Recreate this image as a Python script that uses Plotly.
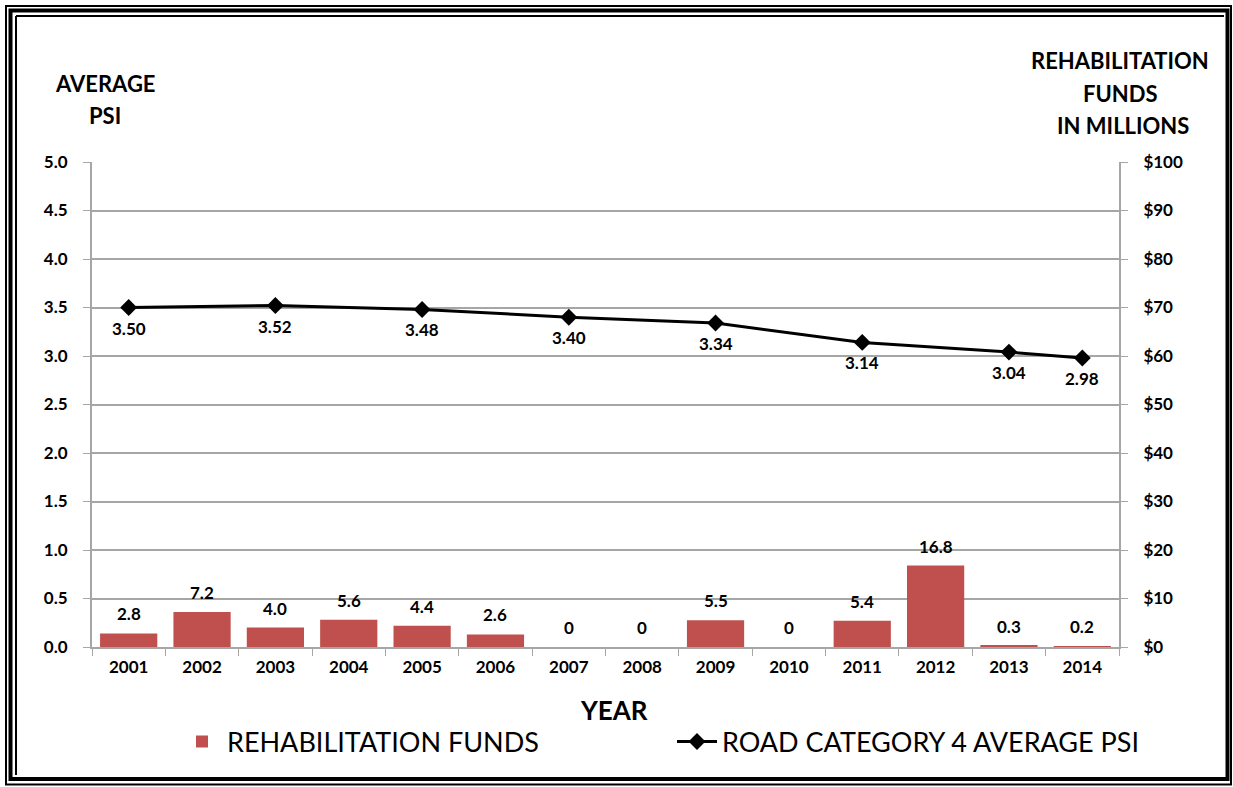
import plotly.graph_objects as go

years = ["2001", "2002", "2003", "2004", "2005", "2006", "2007",
         "2008", "2009", "2010", "2011", "2012", "2013", "2014"]
funds = [2.8, 7.2, 4.0, 5.6, 4.4, 2.6, 0, 0, 5.5, 0, 5.4, 16.8, 0.3, 0.2]

psi_years = ["2001", "2003", "2005", "2007", "2009", "2011", "2013", "2014"]
psi = [3.50, 3.52, 3.48, 3.40, 3.34, 3.14, 3.04, 2.98]

W, H = 1233, 787
ML, MR, MT, MB = 92, 114, 162, 140
PW, PH = W - ML - MR, H - MT - MB


def px(x):
    return (x - ML) / PW


def py(y):
    return (H - MB - y) / PH


FONT = "Lato"
GRAY = "#A6A6A6"
LABEL = dict(family=FONT, size=17, color="black", weight="bold")

fig = go.Figure()
fig.add_trace(go.Bar(
    x=years, y=funds, yaxis="y2", name="REHABILITATION FUNDS",
    marker=dict(color="#C0504D", line=dict(width=0)),
))
fig.add_trace(go.Scatter(
    x=psi_years, y=psi, name="ROAD CATEGORY 4 AVERAGE PSI",
    mode="lines+markers",
    line=dict(color="black", width=3),
    marker=dict(symbol="diamond", size=13, color="black"),
))

# value labels (x given as category index)
for i, v in enumerate(funds):
    fig.add_annotation(x=i, y=v, xref="x", yref="y2",
                       text="0" if v == 0 else f"{v:.1f}",
                       showarrow=False, yanchor="bottom", yshift=7, font=LABEL)
for yr, v in zip(psi_years, psi):
    fig.add_annotation(x=years.index(yr), y=v, xref="x", yref="y",
                       text=f"{v:.2f}", showarrow=False, yanchor="top",
                       yshift=-8, font=LABEL)

TICKS = dict(size=17, weight="bold", family=FONT)
fig.update_layout(
    width=W, height=H,
    margin=dict(l=ML, r=MR, t=MT, b=MB),
    paper_bgcolor="white", plot_bgcolor="white",
    font=dict(family=FONT, color="black"),
    bargap=0.22,
    showlegend=True,
    legend=dict(orientation="h", x=px(672), xanchor="center", y=py(742),
                yanchor="middle", font=dict(size=27, family=FONT),
                itemwidth=40, entrywidth=440, traceorder="normal"),
    xaxis=dict(type="category", categoryorder="array", categoryarray=years,
               range=[-0.5, len(years) - 0.5], autorange=False,
               showline=True, linecolor=GRAY, linewidth=2,
               ticks="outside", tickson="boundaries", ticklen=7, tickcolor=GRAY,
               tickfont=TICKS, showgrid=False, ticklabelstandoff=4, tickangle=0),
    yaxis=dict(range=[0, 5], dtick=0.5, tickformat=".1f", showline=True,
               linecolor=GRAY, linewidth=2, ticks="outside", ticklen=7,
               tickcolor=GRAY, gridcolor=GRAY, gridwidth=2, zeroline=False,
               tickfont=TICKS, ticklabelstandoff=12),
    yaxis2=dict(range=[0, 100], dtick=10, tickprefix="$", overlaying="y",
                side="right", showline=True, linecolor=GRAY, linewidth=2,
                ticks="outside", ticklen=7, tickcolor=GRAY, showgrid=False,
                zeroline=False, tickfont=TICKS, ticklabelstandoff=12),
)

titles = [
    ("AVERAGE", 105, 84, 22), ("PSI", 105, 116, 22),
    ("REHABILITATION", 1120, 60, 22), ("FUNDS", 1120, 93, 22),
    ("IN MILLIONS", 1123, 125, 22),
    ("YEAR", 614, 710, 26),
]
for t, x, y, s in titles:
    fig.add_annotation(text=t, x=px(x), y=py(y), xref="paper", yref="paper",
                       showarrow=False, xanchor="center", yanchor="middle",
                       font=dict(size=s, family=FONT, weight="bold"))

# frame around the whole chart
frame = [
    (6, 6, 1231, 784.5, 2),
    (10.5, 10.5, 1227.5, 779, 4),
]
for x0, y0, x1, y1, w in frame:
    fig.add_shape(type="rect", xref="paper", yref="paper",
                  x0=px(x0), y0=py(y0), x1=px(x1), y1=py(y1),
                  line=dict(color="black", width=w), layer="above")
for x0, y0, x1, y1 in [(16, 16, 16, 775), (16, 16, 1224, 16)]:
    fig.add_shape(type="line", xref="paper", yref="paper",
                  x0=px(x0), y0=py(y0), x1=px(x1), y1=py(y1),
                  line=dict(color="black", width=2), layer="above")

fig.write_html("out.html", config={"displayModeBar": False},
               post_script="document.body.style.margin='0';")
